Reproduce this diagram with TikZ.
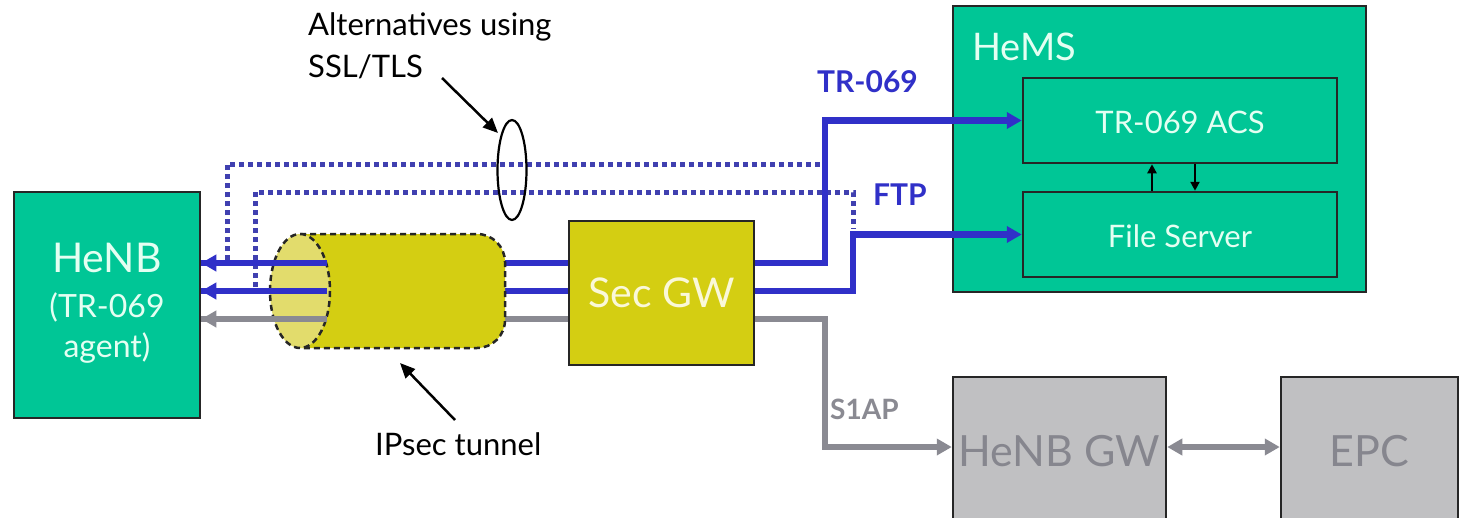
\documentclass[tikz,border=0pt]{standalone}
\usepackage{fontspec}
\setmainfont{Lato}
\usetikzlibrary{arrows.meta}
\definecolor{tealc}{RGB}{0,198,150}
\definecolor{tealtxt}{RGB}{228,255,242}
\definecolor{yelc}{RGB}{212,206,18}
\definecolor{yelface}{RGB}{226,220,108}
\definecolor{yeltxt}{RGB}{250,248,216}
\definecolor{bluec}{RGB}{48,48,200}
\definecolor{dotc}{RGB}{64,64,176}
\definecolor{grayc}{RGB}{138,138,146}
\definecolor{grayfill}{RGB}{192,192,194}
\definecolor{graytxt}{RGB}{134,134,142}
\tikzset{
  box/.style={draw=black!85, line width=2.5pt, inner sep=0pt},
  greenbox/.style={box, fill=tealc},
  yelbox/.style={box, fill=yelc},
  graybox/.style={box, fill=grayfill},
  txt/.style={inner sep=0pt, anchor=base},
  bluecon/.style={draw=bluec, line width=6.5pt},
  graycon/.style={draw=grayc, line width=5.5pt},
  dotcon/.style={draw=dotc, line width=5pt, dash pattern=on 5pt off 4pt},
  bigtip/.style={-{Triangle[length=15pt,width=16pt]}},
  smalltip/.style={-{Triangle[length=9pt,width=9pt]}},
  pointtip/.style={-{Triangle[length=15pt,width=13pt]}},
  tunnel/.style={draw=black!85, line width=2.5pt, dash pattern=on 6pt off 4pt},
}
\begin{document}
\begin{tikzpicture}[x=1pt,y=-1pt]
\useasboundingbox (0,0) rectangle (1462,517);
\clip (0,0) rectangle (1462,517);
\fill[white] (0,0) rectangle (1462,517);

% boxes
\node[greenbox, minimum width=186pt, minimum height=226pt] (henb) at (107,305) {};
\node[greenbox, minimum width=413pt, minimum height=286pt] (hems) at (1159.5,149) {};
\node[greenbox, minimum width=314pt, minimum height=85pt] (acs) at (1180,120.5) {};
\node[greenbox, minimum width=314pt, minimum height=85pt] (fs) at (1180,234.5) {};
\node[yelbox, minimum width=185pt, minimum height=144pt] (sec) at (661.5,293) {};
\node[graybox, minimum width=213pt, minimum height=160pt] (hgw) at (1059.5,457) {};
\node[graybox, minimum width=177pt, minimum height=160pt] (epc) at (1369.5,457) {};

% texts in boxes
\node[txt, text=tealtxt, font=\fontsize{41}{44}\selectfont] (t1) at (107,272) {HeNB};
\node[txt, text=tealtxt, font=\fontsize{32}{36}\selectfont] (t2) at (107,317) {(TR-069};
\node[txt, text=tealtxt, font=\fontsize{32}{36}\selectfont] (t3) at (107,357) {agent)};
\node[txt, anchor=base west, text=tealtxt, font=\fontsize{38}{42}\selectfont] (t4) at (972,60) {HeMS};
\node[txt, text=tealtxt, font=\fontsize{31}{36}\selectfont] (t5) at (1180,133) {TR-069 ACS};
\node[txt, text=tealtxt, font=\fontsize{31}{36}\selectfont] (t6) at (1180,247) {File Server};
\node[txt, text=yeltxt, font=\fontsize{41}{46}\selectfont] (t7) at (661.5,307) {Sec GW};
\node[txt, text=graytxt, font=\fontsize{43}{48}\selectfont] (t8) at (1059.5,466) {HeNB GW};
\node[txt, text=graytxt, font=\fontsize{43}{48}\selectfont] (t9) at (1369.5,466) {EPC};

% labels
\node[txt, anchor=base west, text=bluec, font=\bfseries\fontsize{30}{34}\selectfont] (l1) at (817,92) {TR-069};
\node[txt, anchor=base west, text=bluec, font=\bfseries\fontsize{30}{34}\selectfont] (l2) at (873,205) {FTP};
\node[txt, anchor=base west, text=grayc, font=\bfseries\fontsize{28}{32}\selectfont] (l3) at (830,419) {S1AP};
\node[txt, anchor=base west, font=\fontsize{31}{36}\selectfont] (l4) at (308,35) {Alternatives using};
\node[txt, anchor=base west, font=\fontsize{31}{36}\selectfont] (l5) at (308,77) {SSL/TLS};
\node[txt, anchor=base west, font=\fontsize{31}{36}\selectfont] (l6) at (375,455) {IPsec tunnel};

% coordinates
\coordinate (y1) at (0,263);
\coordinate (y2) at (0,291);
\coordinate (y3) at (0,319);
\coordinate (b1) at (825,263);
\coordinate (b2) at (853,291);
\coordinate (g1) at (825,319);
\coordinate (gy) at (0,447);
\coordinate (f1) at (327,263);
\coordinate (f2) at (327,291);
\coordinate (f3) at (327,319);

% dotted alternatives
\draw[dotcon] (227,260) -- (227,164) -- (821,164);
\draw[dotcon] (255,287) -- (255,192) -- (853,192) -- (853,229);

% connectors through tunnel (background part)
\draw[bluecon] (sec.west |- y1) -- (henb.east |- y1);
\draw[bluecon] (sec.west |- y2) -- (henb.east |- y2);
\draw[graycon] (sec.west |- y3) -- (henb.east |- y3);

% tunnel
\draw[tunnel, fill=yelc, rounded corners=28pt] (300,234) -- (505,234) -- (505,348) -- (300,348);
\draw[tunnel, fill=yelface] (300,291) ellipse[x radius=30, y radius=57];

% arrows leaving tunnel into HeNB
\draw[bluecon, bigtip] (f1) -- (henb.east |- f1);
\draw[bluecon, bigtip] (f2) -- (henb.east |- f2);
\draw[graycon, bigtip] (f3) -- (henb.east |- f3);

% from Sec GW to HeMS and HeNB GW
\draw[bluecon, bigtip] (sec.east |- b1) -- (b1) |- (acs.west);
\draw[bluecon, bigtip] (sec.east |- b2) -- (b2) |- (fs.west);
\draw[graycon, bigtip] (sec.east |- g1) -- (g1) |- (hgw.west |- gy);
\draw[graycon, {Triangle[length=15pt,width=16pt]}-{Triangle[length=15pt,width=16pt]}] (hgw.east |- gy) -- (epc.west |- gy);

% inside HeMS
\draw[line width=2.5pt, smalltip] (fs.north -| 1152,0) -- (acs.south -| 1152,0);
\draw[line width=2.5pt, smalltip] (acs.south -| 1195,0) -- (fs.north -| 1195,0);

% SSL/TLS ellipse and pointers
\coordinate (ssl) at (512,170);
\draw[line width=2.2pt] (ssl) ellipse[x radius=14.5, y radius=50];
\coordinate (sslt) at (498,133);
\coordinate (sslf) at (442,78);
\draw[line width=2.5pt, pointtip] (sslf) -- (sslt);
\coordinate (ipt) at (400,363);
\coordinate (ipf) at (455,420);
\draw[line width=2.5pt, pointtip] (ipf) -- (ipt);
\end{tikzpicture}
\end{document}
